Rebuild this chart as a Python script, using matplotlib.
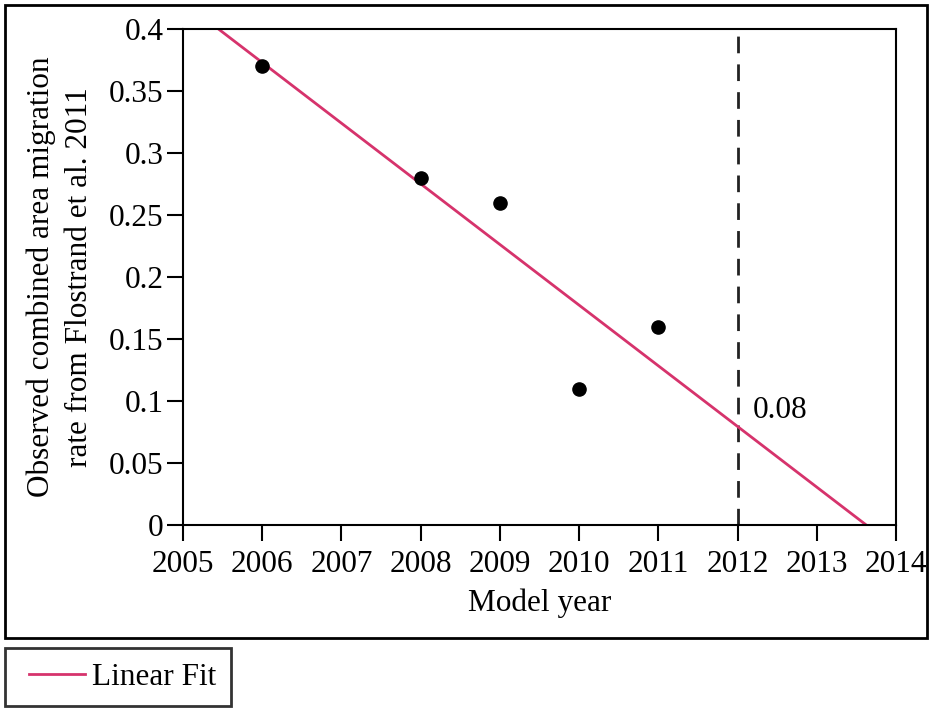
import numpy as np
import matplotlib
matplotlib.use("Agg")
import matplotlib.pyplot as plt
from matplotlib.patches import Rectangle
from matplotlib.legend_handler import HandlerLine2D

years = [2006, 2008, 2009, 2010, 2011]
rates = [0.37, 0.28, 0.26, 0.11, 0.16]
x_ticks = [2005, 2006, 2007, 2008, 2009, 2010, 2011, 2012, 2013, 2014]
y_ticks = [0, 0.05, 0.1, 0.15, 0.2, 0.25, 0.3, 0.35, 0.4]
y_tick_labels = ["0", "0.05", "0.1", "0.15", "0.2", "0.25", "0.3", "0.35", "0.4"]
ref_year = 2012
ref_label = "0.08"

plt.rcParams['font.family'] = ['Liberation Serif', 'DejaVu Serif']
fs = 22.5
fig = plt.figure(figsize=(9.31, 7.08), dpi=100)
W, H = 931, 708
ax = fig.add_axes([183 / W, 1 - 525 / H, (896 - 183) / W, (525 - 29) / H])

pink = '#d6336c'
slope, intercept = np.polyfit(years, rates, 1)
x_top = (0.4 - intercept) / slope
x_zero = (0 - intercept) / slope
xs = np.array([x_top, x_zero])
fit_line, = ax.plot(xs, slope * xs + intercept, color=pink, lw=2, label='Linear Fit', zorder=2)

ax.scatter(years, rates, s=90, color='black', zorder=3)
ax.plot([ref_year, ref_year], [0, 0.4], color='#222222', lw=2, dashes=(6, 4), zorder=1)
ax.text(ref_year + 0.19, 0.092, ref_label, fontsize=fs, va='center', ha='left')

ax.set_xlim(2005, 2014)
ax.set_ylim(0, 0.4)
ax.set_xticks(x_ticks)
ax.set_yticks(y_ticks)
ax.set_yticklabels(y_tick_labels)
ax.tick_params(direction='out', length=11.5, width=1.5, labelsize=fs)
ax.tick_params(axis='x', pad=6.5)
ax.tick_params(axis='y', pad=2.5)
for sp in ax.spines.values():
    sp.set_linewidth(1.5)

ax.set_xlabel('Model year', fontsize=fs, labelpad=7)
ax.set_ylabel('Observed combined area migration\nrate from Flostrand et al. 2011', fontsize=fs,
              labelpad=11, linespacing=1.4)

# outer frame
fig.patches.append(Rectangle((5 / W, 1 - 638 / H), (927 - 5) / W, (638 - 5) / H,
                             transform=fig.transFigure, fill=False, edgecolor='black', lw=2))

leg = fig.legend(handles=[fit_line], loc='lower left', bbox_to_anchor=(5 / W, 1 - 706 / H),
                 fontsize=fs, frameon=True, fancybox=False, edgecolor='black',
                 numpoints=2, handler_map={fit_line: HandlerLine2D(numpoints=2, marker_pad=0.3)},
                 handlelength=2.4, handletextpad=-0.07, borderpad=0.46, borderaxespad=0)
leg.get_frame().set_linewidth(2)

fig.savefig('out.png', dpi=100)
